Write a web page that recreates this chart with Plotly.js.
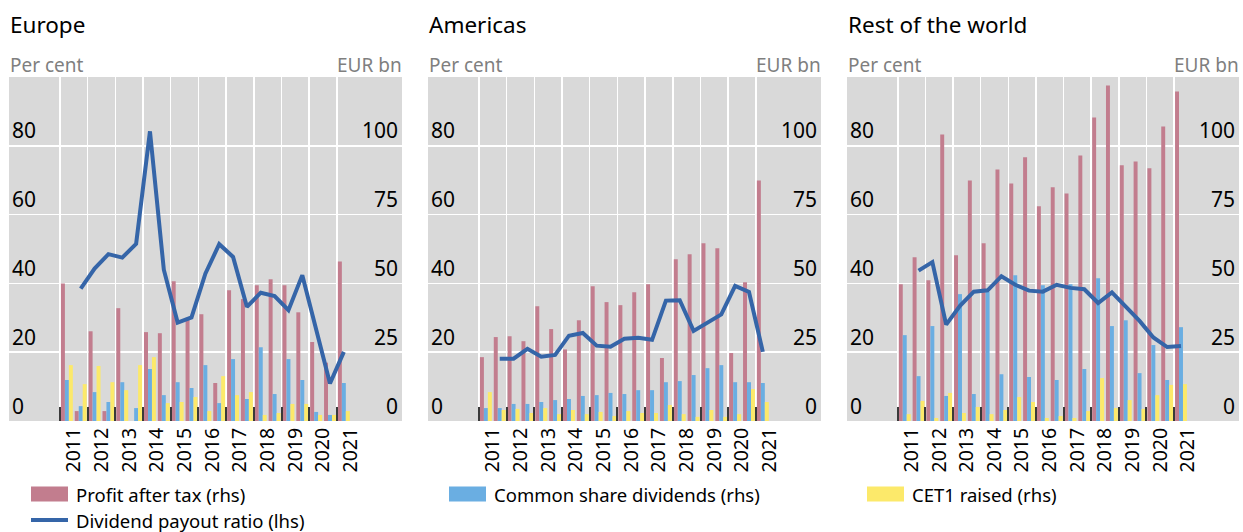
<!DOCTYPE html>
<html>
<head>
<meta charset="utf-8">
<script src="https://cdn.plot.ly/plotly-3.0.1.min.js"></script>
<style>html,body{margin:0;padding:0;background:#fff;}#chart{width:1243px;height:532px;}</style>
</head>
<body>
<div id="chart"></div>
<script>
// ---- data (semi-annual periods) ----
const periods = ["2011H1","2011H2","2012H1","2012H2","2013H1","2013H2","2014H1","2014H2","2015H1","2015H2","2016H1","2016H2","2017H1","2017H2","2018H1","2018H2","2019H1","2019H2","2020H1","2020H2","2021H1"];
const yearLabels = ["2011","2012","2013","2014","2015","2016","2017","2018","2019","2020","2021"];
const panelTitles = ["Europe","Americas","Rest of the world"];

const europeProfit = [50.0, 3.6, 32.6, 3.6, 41.0, -10, 32.3, 31.9, 50.8, 37.5, 38.8, 13.8, 47.5, 44.3, 49.3, 51.5, 49.3, 39.5, 28.7, 21.2, 58.0];
const europeDividends = [14.9, 5.4, 10.5, 6.9, 14.1, 4.7, 18.9, 9.4, 14.1, 12.0, 20.3, 6.5, 22.5, 8.0, 26.8, 9.8, 22.5, 14.9, 3.3, 2.2, 13.8];
const europeCET1 = [20.3, 13.4, 20.0, 14.1, 11.2, 20.3, 23.2, 6.5, 6.9, 8.7, 3.6, 16.3, 9.4, 10.5, 2.2, 2.9, 6.2, 6.2, 2.2, 2.2, 3.6];
const europePayout = [null, 38.5, 44.3, 48.5, 47.5, 51.5, 84.2, 44.0, 28.6, 30.1, 42.8, 51.4, 47.7, 33.2, 37.3, 36.3, 32.2, 42.4, 26.9, 10.9, 20.1];

const americasProfit = [23.2, 30.5, 30.8, 29.0, 41.7, 33.4, 26.0, 36.6, 49.0, 43.2, 42.1, 46.8, 49.7, 22.9, 58.8, 60.6, 64.6, 62.8, 24.7, 50.4, 87.4];
const americasDividends = [4.7, 4.7, 6.2, 6.2, 6.9, 7.6, 8.0, 9.1, 9.4, 10.2, 9.8, 11.2, 11.2, 14.1, 14.5, 16.7, 19.2, 20.3, 14.1, 14.1, 13.8];
const americasCET1 = [10.5, 4.0, 4.4, 2.9, 4.7, 2.5, 4.0, 2.5, 3.3, 1.8, 3.6, 2.9, 2.9, 5.8, 2.5, 1.5, 4.0, 1.5, 2.5, 11.6, 6.9];
const americasPayout = [null, 18.1, 18.1, 21.0, 18.7, 19.2, 24.8, 25.6, 21.9, 21.6, 23.9, 24.2, 23.6, 35.0, 35.1, 26.2, 28.5, 31.0, 39.3, 37.5, 20.1];

const rowProfit = [49.7, 59.5, 51.1, 104.1, 60.2, 87.4, 64.6, 91.4, 86.3, 95.8, 78.0, 84.9, 82.7, 96.5, 110.3, 121.9, 92.9, 94.3, 91.8, 107.0, 119.7];
const rowDividends = [31.2, 16.3, 34.5, 9.1, 46.1, 9.8, 47.0, 17.0, 53.0, 16.0, 49.3, 14.9, 49.7, 18.9, 51.9, 34.5, 36.6, 17.4, 27.6, 14.9, 34.1];
const rowCET1 = [2.5, 7.3, 1.1, 10.2, 2.9, 5.1, 2.5, 4.0, 8.7, 6.9, 1.1, 1.8, 1.1, 3.6, 15.6, 4.7, 7.6, 4.4, 9.4, 13.1, 13.4];
const rowPayout = [null, 43.7, 46.2, 28.0, 33.5, 37.6, 38.0, 42.1, 39.6, 37.9, 37.6, 39.6, 38.7, 38.3, 34.3, 37.4, 33.2, 29.1, 24.3, 21.5, 21.8];

const leftTicks = [0, 20, 40, 60, 80];
const rightTicks = [0, 25, 50, 75, 100];

const seriesNames = ["Profit after tax (rhs)", "Common share dividends (rhs)", "CET1 raised (rhs)", "Dividend payout ratio (lhs)"];
const colors = {profit: "#c27d8e", div: "#6aaee2", cet1: "#fce96a", line: "#3565a8"};

// ---- helpers ----
const W = 1243, H = 532;
const FONT = "Noto Sans, Open Sans, sans-serif";
const px = v => v / W;
const py = v => 1 - v / H;
const xNum = periods.map(p => parseInt(p.slice(0, 4)) + (p.endsWith("H1") ? 0.25 : 0.75));
const yearNums = yearLabels.map(Number);

const panels = [
  {profit: europeProfit, div: europeDividends, cet1: europeCET1, payout: europePayout, x0: 9, x1: 402},
  {profit: americasProfit, div: americasDividends, cet1: americasCET1, payout: americasPayout, x0: 428, x1: 821},
  {profit: rowProfit, div: rowDividends, cet1: rowCET1, payout: rowPayout, x0: 847, x1: 1239}
];
const plotTop = 77, plotBot = 421;

const traces = [];
const layout = {
  width: W, height: H,
  margin: {l: 0, r: 0, t: 0, b: 0},
  paper_bgcolor: "#ffffff",
  plot_bgcolor: "#d9d9d9",
  barmode: "group",
  bargap: 0.14,
  bargroupgap: 0,
  showlegend: false,
  font: {family: FONT, color: "#000000", size: 18},
  annotations: [],
  shapes: []
};

panels.forEach((p, i) => {
  const xa = i === 0 ? "x" : "x" + (i + 1);
  const yb = i === 0 ? "y" : "y" + (2 * i + 1);   // base: EUR bn (right), bars
  const yo = "y" + (2 * i + 2);                  // overlay: per cent (left), line
  const xKey = "xaxis" + (i === 0 ? "" : i + 1);
  const ybKey = "yaxis" + (i === 0 ? "" : 2 * i + 1);
  const yoKey = "yaxis" + (2 * i + 2);

  traces.push({type: "bar", x: xNum, y: p.profit, name: seriesNames[0], marker: {color: colors.profit}, xaxis: xa, yaxis: yb});
  traces.push({type: "bar", x: xNum, y: p.div, name: seriesNames[1], marker: {color: colors.div}, xaxis: xa, yaxis: yb});
  traces.push({type: "bar", x: xNum, y: p.cet1, name: seriesNames[2], marker: {color: colors.cet1}, xaxis: xa, yaxis: yb});
  traces.push({type: "scatter", mode: "lines", x: xNum, y: p.payout, name: seriesNames[3], line: {color: colors.line, width: 4}, connectgaps: false, xaxis: xa, yaxis: yo});

  layout[xKey] = {
    domain: [px(p.x0), px(p.x1)],
    anchor: yb,
    range: [2009.16, 2023.35],
    tickmode: "array",
    tickvals: yearNums.map(y => y + 0.5),
    ticktext: yearLabels,
    tickangle: -90,
    ticks: "",
    ticklabelstandoff: 2,
    showgrid: false,
    zeroline: false,
    showline: false,
    tickfont: {size: 19.5, family: FONT, color: "#000"},
    minor: {tickmode: "array", tickvals: yearNums, showgrid: true, gridcolor: "#ffffff", gridwidth: 1.5,
            ticks: "inside", ticklen: 14, tickwidth: 2, tickcolor: "#3a3a3a"},
    fixedrange: true
  };
  layout[ybKey] = {
    domain: [py(plotBot), py(plotTop)],
    anchor: xa,
    side: "right",
    range: [0, 125],
    tickmode: "array",
    tickvals: rightTicks,
    ticks: "",
    ticklabelposition: "inside top",
    ticklabelstandoff: 1,
    showgrid: true,
    gridcolor: "#ffffff",
    gridwidth: 1.5,
    zeroline: false,
    showline: false,
    tickfont: {size: 21, family: FONT, color: "#000"},
    fixedrange: true
  };
  layout[yoKey] = {
    overlaying: yb,
    anchor: xa,
    side: "left",
    range: [0, 100],
    tickmode: "array",
    tickvals: leftTicks,
    ticks: "",
    ticklabelposition: "inside top",
    ticklabelstandoff: 0,
    showgrid: false,
    zeroline: false,
    showline: false,
    tickfont: {size: 21, family: FONT, color: "#000"},
    fixedrange: true
  };

  layout.annotations.push({text: panelTitles[i], xref: "paper", yref: "paper", x: px(p.x0 - 1), y: py(25), xanchor: "left", yanchor: "middle", showarrow: false, font: {size: 22.5, family: FONT, color: "#000"}});
  layout.annotations.push({text: "Per cent", xref: "paper", yref: "paper", x: px(p.x0 - 1), y: py(65), xanchor: "left", yanchor: "middle", showarrow: false, font: {size: 19, family: FONT, color: "#7f7f7f"}});
  layout.annotations.push({text: "EUR bn", xref: "paper", yref: "paper", x: px(p.x1 + 2), y: py(65), xanchor: "right", yanchor: "middle", showarrow: false, font: {size: 19, family: FONT, color: "#7f7f7f"}});
});

// ---- custom legend ----
const legendItems = [
  {name: seriesNames[0], color: colors.profit, kind: "rect", sx: 31, cy: 494},
  {name: seriesNames[1], color: colors.div, kind: "rect", sx: 449, cy: 494},
  {name: seriesNames[2], color: colors.cet1, kind: "rect", sx: 867, cy: 494},
  {name: seriesNames[3], color: colors.line, kind: "line", sx: 31, cy: 520}
];
legendItems.forEach(it => {
  if (it.kind === "rect") {
    layout.shapes.push({type: "rect", xref: "paper", yref: "paper", x0: px(it.sx), x1: px(it.sx + 37), y0: py(it.cy + 7.5), y1: py(it.cy - 7.5), fillcolor: it.color, line: {width: 0}});
  } else {
    layout.shapes.push({type: "line", xref: "paper", yref: "paper", x0: px(it.sx), x1: px(it.sx + 37), y0: py(it.cy), y1: py(it.cy), line: {color: it.color, width: 4}});
  }
  layout.annotations.push({text: it.name, xref: "paper", yref: "paper", x: px(it.sx + 44), y: py(it.cy), xanchor: "left", yanchor: "middle", showarrow: false, borderpad: 0, font: {size: 18.5, family: FONT, color: "#000"}});
});

Plotly.newPlot("chart", traces, layout, {displayModeBar: false, staticPlot: true});
</script>
</body>
</html>
